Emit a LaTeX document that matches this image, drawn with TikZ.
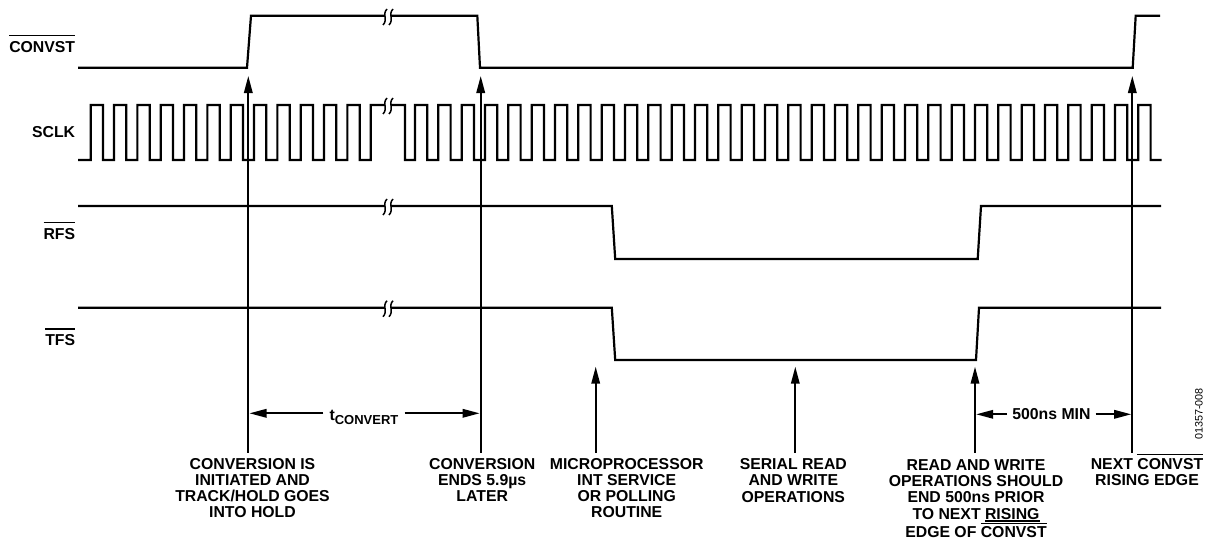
\documentclass[tikz,border=0pt]{standalone}
\usepackage{fontspec}
\setmainfont{Liberation Sans}
\usetikzlibrary{arrows.meta}
\newcommand\ovl[2][16pt]{\setbox0=\hbox{#2}\rlap{\rule[#1]{\wd0}{1.6pt}}\box0}
\newcommand\unl[1]{\setbox0=\hbox{#1}\rlap{\rule[-2.6pt]{\wd0}{1.6pt}}\box0}
\begin{document}
\begin{tikzpicture}[x=1pt,y=-1pt,
  sig/.style={line width=2.2pt, line join=miter},
  arr/.style={line width=1.8pt, -{Triangle[length=17pt,width=8.5pt]}},
  lbl/.style={font=\bfseries\fontsize{15.8}{16.2}\selectfont, inner sep=0pt},
  note/.style={lbl, align=center, anchor=base},
  wavebreak/.pic={
    \fill[white] (-3,-7) rectangle (3,7);
    \draw[line width=1.5pt] (-1,-8) .. controls (-6,-3) and (0,3) .. (-5,8);
    \draw[line width=1.5pt] (5,-8) .. controls (0,-3) and (6,3) .. (1,8);
  }]
\useasboundingbox (0,0) rectangle (1207,541);

% signal labels
\node[lbl, anchor=base east] (lconv) at (75.3,52.4) {\ovl{CONVST}};
\node[lbl, anchor=base east] (lsclk) at (75.3,137.7) {SCLK};
\node[lbl, anchor=base east] (lrfs) at (75.3,239.3) {\ovl{RFS}};
\node[lbl, anchor=base east] (ltfs) at (75.3,345.7) {\ovl{TFS}};

% CONVST
\draw[sig] (78,67.7) -- (247,67.7) -- (251,15.7) -- (477.3,15.7) -- (480,67.7)
  -- (1132.7,67.7) -- (1135.7,15.7) -- (1160,15.7);
% SCLK
\draw[sig] (78,160) -- (90.7,160)
  \foreach \k in {0,...,11}{ -- ({90.7+23.333*\k},105) -- ({103+23.333*\k},105)
     -- ({103+23.333*\k},160) -- ({114.033+23.333*\k},160) }
  -- (370.7,105) -- (405,105) -- (405,160) -- (415,160)
  \foreach \k in {0,...,31}{ -- ({415+23.333*\k},105) -- ({427.3+23.333*\k},105)
     -- ({427.3+23.333*\k},160) -- ({438.333+23.333*\k},160) };
% RFS
\draw[sig] (78,206) -- (611.8,206) -- (615.2,259) -- (977.7,259) -- (981,206) -- (1161,206);
% TFS
\draw[sig] (78,307.7) -- (611.8,307.7) -- (615.2,360) -- (976,360) -- (979,307.7) -- (1161,307.7);

% break marks
\pic at (388,17) {wavebreak};
\pic at (388,106) {wavebreak};
\pic at (388,207) {wavebreak};
\pic at (388,308.7) {wavebreak};

% event arrows
\coordinate (b1) at (248.3,452.7); \coordinate (t1) at (248.3,76);
\coordinate (b2) at (480.7,452.7); \coordinate (t2) at (480.7,76);
\coordinate (b3) at (595.7,452.7); \coordinate (t3) at (595.7,366.7);
\coordinate (b4) at (795.3,452.7); \coordinate (t4) at (795.3,366.7);
\coordinate (b5) at (975,452.7);   \coordinate (t5) at (975,366.7);
\coordinate (b6) at (1132.3,452.7); \coordinate (t6) at (1132.3,76);
\foreach \i in {1,...,6} \draw[arr] (b\i) -- (t\i);

% timing dimensions
\node[lbl, anchor=base, inner xsep=6pt] (tconv) at (364,420) {t\raisebox{-4pt}{\fontsize{13}{13}\selectfont CONVERT}};
\coordinate (dl1) at (249.5,413.3); \coordinate (dr1) at (479.6,413.3);
\draw[arr] (tconv.west |- dl1) -- (dl1);
\draw[arr] (tconv.east |- dr1) -- (dr1);

\node[lbl, anchor=base, inner xsep=5pt] (mn) at (1051.4,419.7) {500ns MIN};
\coordinate (dl2) at (976.2,414.3); \coordinate (dr2) at (1131.2,414.3);
\draw[arr] (mn.west |- dl2) -- (dl2);
\draw[arr] (mn.east |- dr2) -- (dr2);

% notes (anchored at the baseline of their last line)
\node[note] (n1) at (252.5,517.7) {CONVERSION IS\\INITIATED AND\\TRACK/HOLD GOES\\INTO HOLD};
\node[note] (n2) at (482.2,501.7) {CONVERSION\\ENDS 5.9µs\\LATER};
\node[note] (n3) at (626.7,517.7) {MICROPROCESSOR\\INT SERVICE\\OR POLLING\\ROUTINE};
\node[note] (n4) at (793.3,502) {SERIAL READ\\AND WRITE\\OPERATIONS};
\node[note] (n5) at (976,537.1) {READ AND WRITE\\OPERATIONS SHOULD\\END 500ns PRIOR\\TO NEXT \unl{RISING}\\EDGE OF \ovl[12.8pt]{CONVST}};
\node[note] (n6) at (1147,485.6) {NEXT \ovl[14pt]{CONVST}\\RISING EDGE};

\node[font=\fontsize{10.8}{11}\selectfont, rotate=90, inner sep=0pt] (fig) at (1199,414) {01357-008};
\end{tikzpicture}
\end{document}
